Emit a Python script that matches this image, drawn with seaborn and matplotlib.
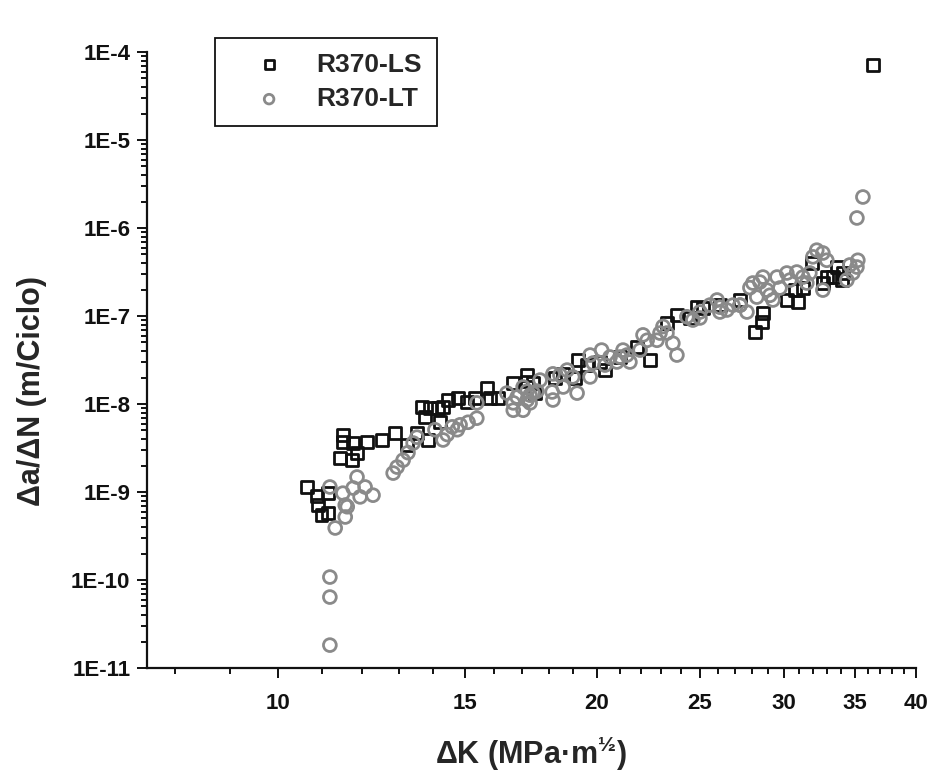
import numpy as np
import pandas as pd
import seaborn as sns
import matplotlib
matplotlib.use("Agg")
from matplotlib import pyplot as plt
from matplotlib.ticker import FuncFormatter, NullFormatter

# R370-LS (squares)
ls_dk = [10.64, 10.88, 10.91, 10.99, 11.15, 11.15, 11.44, 11.51, 11.51, 11.74,
         11.77, 11.87, 12.13, 12.53, 12.89, 13.24, 13.52, 13.67, 13.76, 13.85,
         13.91, 14.15, 14.22, 14.31, 14.47, 14.79, 15.08, 15.34, 15.75, 15.85,
         16.13, 16.67, 17.18, 17.18, 17.40, 17.48, 18.25, 18.58, 19.06, 19.19,
         19.57, 20.13, 20.35, 21.02, 21.82, 22.43, 23.28, 23.79, 24.47, 24.85,
         25.18, 26.12, 27.29, 28.18, 28.60, 28.68, 30.21, 30.74, 30.94, 31.28,
         31.90, 32.67, 32.95, 33.39, 33.69, 34.05, 34.12, 36.42]
ls_dadn = [1.15e-9, 9.0e-10, 7.1e-10, 5.5e-10, 5.8e-10, 9.7e-10, 2.43e-9, 4.45e-9, 3.7e-9, 2.3e-9,
           3.6e-9, 2.8e-9, 3.7e-9, 3.9e-9, 4.7e-9, 3.4e-9, 4.7e-9, 9.2e-9, 7.1e-9, 3.9e-9,
           9.0e-9, 9.0e-9, 6.2e-9, 9.2e-9, 1.11e-8, 1.17e-8, 1.05e-8, 1.17e-8, 1.52e-8, 1.17e-8,
           1.17e-8, 1.73e-8, 2.14e-8, 1.8e-8, 1.73e-8, 1.33e-8, 1.97e-8, 2.2e-8, 1.97e-8, 3.16e-8,
           2.8e-8, 3.0e-8, 2.43e-8, 3.42e-8, 4.45e-8, 3.16e-8, 8.3e-8, 1.03e-7, 9.5e-8, 1.26e-7,
           1.23e-7, 1.33e-7, 1.52e-7, 6.6e-8, 8.5e-8, 1.08e-7, 1.52e-7, 1.97e-7, 1.44e-7, 2.08e-7,
           4.0e-7, 2.37e-7, 2.77e-7, 2.77e-7, 3.6e-7, 2.56e-7, 3.1e-7, 7.1e-5]

# R370-LT (circles)
lt_dk = [11.19, 11.32, 11.19, 11.19, 11.19, 11.51, 11.57, 11.57, 11.62, 11.77,
         11.87, 11.95, 12.08, 12.29, 12.84, 12.95, 13.12, 13.26, 13.41, 13.52,
         14.06, 14.31, 14.44, 14.60, 14.76, 14.85, 15.11, 15.40, 15.40, 16.44,
         16.67, 16.67, 16.81, 17.03, 17.03, 17.18, 17.18, 17.29, 17.29, 17.40,
         17.55, 17.67, 18.14, 18.17, 18.17, 18.45, 18.58, 18.74, 18.97, 19.15,
         19.70, 19.70, 19.83, 20.20, 20.35, 20.57, 20.88, 21.02, 21.16, 21.34,
         21.48, 21.96, 22.10, 22.30, 22.78, 22.93, 23.08, 23.28, 23.58, 23.79,
         24.31, 24.63, 25.01, 25.01, 25.56, 25.96, 26.12, 26.12, 26.52, 26.87,
         27.29, 27.29, 27.70, 27.88, 28.06, 28.30, 28.49, 28.68, 28.93, 29.12,
         29.31, 29.57, 29.76, 30.21, 30.41, 30.87, 31.28, 31.55, 31.76, 31.97,
         32.24, 32.67, 32.67, 32.95, 34.42, 34.64, 34.87, 35.18, 35.25, 35.18,
         35.64]
lt_dadn = [1.14e-9, 3.9e-10, 1.08e-10, 6.4e-11, 1.82e-11, 9.7e-10, 7.1e-10, 5.2e-10, 6.8e-10, 1.11e-9,
           1.48e-9, 8.8e-10, 1.14e-9, 9.2e-10, 1.64e-9, 1.92e-9, 2.3e-9, 2.8e-9, 3.6e-9, 4.2e-9,
           5.1e-9, 3.9e-9, 4.5e-9, 5.5e-9, 5.1e-9, 5.8e-9, 6.2e-9, 6.9e-9, 1.03e-8, 1.33e-8,
           1.03e-8, 8.5e-9, 1.2e-8, 8.5e-9, 1.56e-8, 1.11e-8, 1.4e-8, 1.26e-8, 1.03e-8, 1.33e-8,
           1.4e-8, 1.87e-8, 1.37e-8, 1.11e-8, 2.2e-8, 2.14e-8, 1.56e-8, 2.43e-8, 2.03e-8, 1.33e-8,
           3.6e-8, 2.03e-8, 2.92e-8, 4.1e-8, 2.77e-8, 3.42e-8, 3.0e-8, 3.42e-8, 4.1e-8, 3.6e-8,
           3.0e-8, 4.1e-8, 6.1e-8, 5.3e-8, 5.3e-8, 6.4e-8, 7.6e-8, 6.4e-8, 4.9e-8, 3.6e-8,
           9.8e-8, 9.0e-8, 9.5e-8, 1.11e-7, 1.33e-7, 1.52e-7, 1.11e-7, 1.26e-7, 1.17e-7, 1.33e-7,
           1.33e-7, 1.33e-7, 1.11e-7, 2.1e-7, 2.37e-7, 1.64e-7, 2.43e-7, 2.77e-7, 1.97e-7, 1.72e-7,
           1.52e-7, 2.77e-7, 2.08e-7, 3.08e-7, 2.56e-7, 3.16e-7, 2.77e-7, 2.37e-7, 3.08e-7, 4.7e-7,
           5.6e-7, 5.2e-7, 1.97e-7, 4.3e-7, 2.56e-7, 3.8e-7, 3.08e-7, 3.6e-7, 4.3e-7, 1.3e-6,
           2.25e-6]

x_major = [10, 15, 20, 25, 30, 35, 40]
x_minor = [8, 9, 11, 12, 13, 14, 16, 17, 18, 19, 21, 22, 23, 24, 26, 27, 28, 29,
           31, 32, 33, 34, 36, 37, 38, 39]

df = pd.concat([
    pd.DataFrame({"dK": ls_dk, "dadN": ls_dadn, "serie": "R370-LS"}),
    pd.DataFrame({"dK": lt_dk, "dadN": lt_dadn, "serie": "R370-LT"}),
])

sns.set_style("white")
plt.rcParams['font.family'] = ['Liberation Sans', 'DejaVu Sans']
plt.rcParams['font.weight'] = 'bold'
plt.rcParams['mathtext.fontset'] = 'custom'
plt.rcParams['mathtext.rm'] = 'Liberation Sans:bold'
plt.rcParams['mathtext.bf'] = 'Liberation Sans:bold'
plt.rcParams['mathtext.default'] = 'bf'

fig = plt.figure(figsize=(9.31, 7.74), dpi=100)
ax = fig.add_axes([147 / 931, 1 - 668 / 774, (916 - 147) / 931, (668 - 52) / 774])

styles = {
    "R370-LS": dict(marker="s", color="#111111", s=72),
    "R370-LT": dict(marker="o", color="#8a8a8a", s=85),
}
for name, st in styles.items():
    sub = df[df["serie"] == name]
    sns.scatterplot(data=sub, x="dK", y="dadN", ax=ax, marker=st["marker"],
                    color=st["color"], facecolors="none", edgecolors=st["color"],
                    linewidths=2.0, s=st["s"], label=name, legend=False)

ax.set_xscale("log")
ax.set_yscale("log")
ax.set_xlim(7.52, 40)
ax.set_ylim(1e-11, 1e-4)

ax.set_xticks(x_major)
ax.set_xticks(x_minor, minor=True)
ax.xaxis.set_major_formatter(FuncFormatter(lambda v, p: f"{v:g}"))
ax.xaxis.set_minor_formatter(NullFormatter())
ax.yaxis.set_major_formatter(FuncFormatter(lambda v, p: f"1E{int(round(np.log10(v)))}"))
ax.yaxis.set_minor_formatter(NullFormatter())

ax.tick_params(which="both", direction="out", width=1.4, colors="#111111",
               labelsize=16, left=True, bottom=True)
ax.tick_params(which="major", length=7, pad=5)
ax.tick_params(axis="x", which="major", pad=11)
ax.tick_params(which="minor", length=4)

for side in ["top", "right"]:
    ax.spines[side].set_visible(False)
for side in ["left", "bottom"]:
    ax.spines[side].set_linewidth(1.6)
    ax.spines[side].set_color("#111111")

ax.set_xlabel("ΔK (MPa·m$^{½}$)", fontsize=22, fontweight="bold")
ax.set_ylabel("Δa/ΔN (m/Ciclo)", fontsize=22, fontweight="bold")
ax.xaxis.set_label_coords(0.5, -0.108)
ax.yaxis.set_label_coords(-0.13, 0.45)

handles, labels = ax.get_legend_handles_labels()
leg = fig.legend(handles, labels, loc="upper left", bbox_to_anchor=(215 / 931, 1 - 38 / 774),
                 frameon=True, fancybox=False, framealpha=1, edgecolor="#111111",
                 fontsize=19, markerscale=0.75, scatterpoints=1, borderaxespad=0,
                 borderpad=0.55, handlelength=3.0, handletextpad=0.3, labelspacing=0.4)
leg.get_frame().set_linewidth(1.3)
for t in leg.get_texts():
    t.set_fontweight("bold")

fig.savefig("out.png", dpi=100)
